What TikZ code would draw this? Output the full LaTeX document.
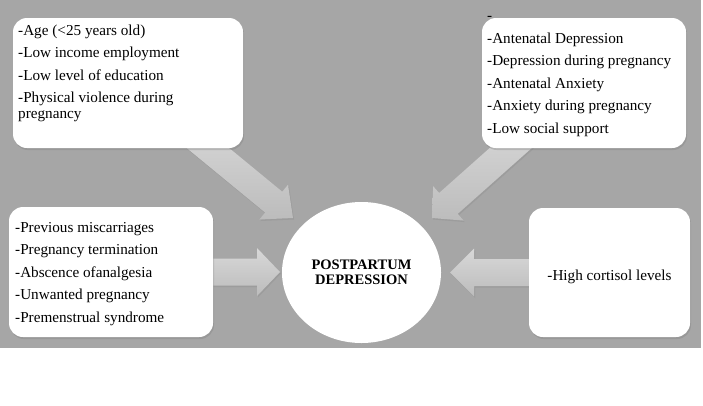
\documentclass[tikz,border=0pt]{standalone}
\usepackage{fontspec}
\setmainfont{Liberation Serif}
\usetikzlibrary{calc,shadows,shapes.geometric}
\definecolor{bggray}{HTML}{A6A6A6}
\definecolor{arrowtop}{HTML}{D8D8D8}
\definecolor{arrowbot}{HTML}{BCBCBC}
\newcommand{\txtfont}{\fontsize{15.2}{15.5}\selectfont}
\newcommand{\firstline}{\rule{0pt}{11pt}}
% #1 prefix, #2 start, #3 tip, #4 shaft half width, #5 head half width, #6 head length
\newcommand{\blockarrow}[6]{%
  \coordinate (#1hb) at ($(#3)!#6!(#2)$);
  \path[arrowfill]
    ($(#2)!#4!90:(#3)$) -- ($(#1hb)!#4!90:(#3)$) -- ($(#1hb)!#5!90:(#3)$) --
    (#3) --
    ($(#1hb)!#5!-90:(#3)$) -- ($(#1hb)!#4!-90:(#3)$) -- ($(#2)!#4!-90:(#3)$) -- cycle;
}
\tikzset{
  box/.style={fill=white, rounded corners=14pt, inner sep=0pt,
    drop shadow={opacity=0.35, shadow xshift=1pt, shadow yshift=-2pt}},
  hub/.style={ellipse, fill=white, inner sep=0pt, align=center,
    font=\bfseries\fontsize{14.5}{14.5}\selectfont},
  txt/.style={inner sep=0pt, align=left, anchor=north west, font=\txtfont},
  arrowfill/.style={top color=arrowtop, bottom color=arrowbot,
    drop shadow={opacity=0.25, shadow xshift=1pt, shadow yshift=-1.5pt}},
}
\begin{document}
\begin{tikzpicture}[x=1pt, y=-1pt]
\useasboundingbox (0,0) rectangle (703,405);
\fill[bggray] (0,0) rectangle (701,348);

% anchor coordinates for the connectors
\coordinate (s1) at (186,130);
\coordinate (t1) at (293,218);
\coordinate (s2) at (531,130);
\coordinate (t2) at (432,218);
\coordinate (s3) at (200,272);
\coordinate (t3) at (280,272);
\coordinate (s4) at (540,272.5);
\coordinate (t4) at (450,272.5);

% block arrows (drawn below the boxes)
\blockarrow{a1}{s1}{t1}{13.5pt}{22.5pt}{25pt}
\blockarrow{a2}{s2}{t2}{14pt}{23pt}{22pt}
\blockarrow{a3}{s3}{t3}{13.5pt}{24pt}{23pt}
\blockarrow{a4}{s4}{t4}{13.5pt}{24pt}{24pt}

% boxes
\node[box, minimum width=230pt, minimum height=130pt] (b1) at (128,83) {};
\node[box, minimum width=204pt, minimum height=130pt] (b2) at (584,83) {};
\node[box, minimum width=204pt, minimum height=130pt] (b3) at (111,272) {};
\node[box, minimum width=161pt, minimum height=129pt] (b4) at (609.5,272.5) {};

% centre ellipse
\node[hub, minimum width=159pt, minimum height=141pt] (pd) at (361.5,272.5)
  {POSTPARTUM\\DEPRESSION};

% texts
\node[txt] (t1txt) at (18,24) {\firstline-Age (<25 years old)\\[7pt]
  -Low income employment\\[7pt]
  -Low level of education\\[7pt]
  -Physical violence during\\
  pregnancy};
\node[txt] (t2txt) at (487,32) {\firstline-Antenatal Depression\\[7pt]
  -Depression during pregnancy\\[7pt]
  -Antenatal Anxiety\\[7pt]
  -Anxiety during pregnancy\\[7pt]
  -Low social support};
\node[txt] (t3txt) at (15,221) {\firstline-Previous miscarriages\\[7pt]
  -Pregnancy termination\\[7pt]
  -Abscence ofanalgesia\\[7pt]
  -Unwanted pregnancy\\[7pt]
  -Premenstrual syndrome};
\node[inner sep=0pt, anchor=base, font=\txtfont] (t4txt) at (609.5,280)
  {-High cortisol levels};
\node[inner sep=0pt, anchor=base west, font=\txtfont] (stray) at (487,20) {-};
\end{tikzpicture}
\end{document}
